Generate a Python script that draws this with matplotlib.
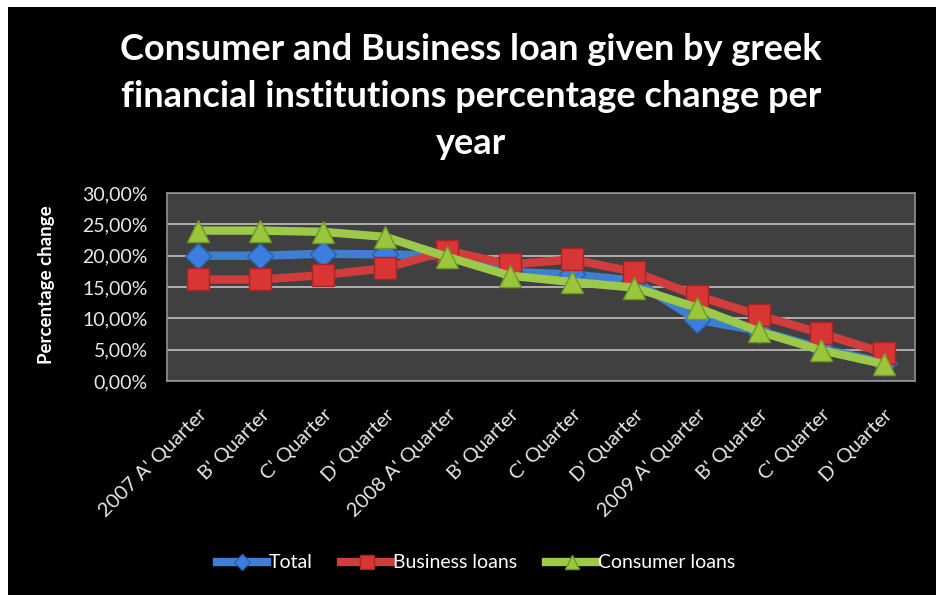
import matplotlib
matplotlib.use('Agg')
import matplotlib.pyplot as plt
from matplotlib.ticker import FuncFormatter

# data (percent)
quarters = ["2007 A' Quarter", "B' Quarter", "C' Quarter", "D' Quarter",
            "2008 A' Quarter", "B' Quarter", "C' Quarter", "D' Quarter",
            "2009 A' Quarter", "B' Quarter", "C' Quarter", "D' Quarter"]
total = [20.0, 20.0, 20.3, 20.2, 20.0, 17.4, 17.0, 16.0, 9.8, 8.0, 5.2, 2.9]
business = [16.2, 16.2, 16.9, 18.0, 20.8, 18.6, 19.4, 17.4, 13.6, 10.5, 7.6, 4.5]
consumer = [24.0, 24.0, 23.8, 23.0, 19.8, 16.8, 15.8, 14.9, 11.7, 7.9, 4.9, 2.7]

title = ("Consumer and Business loan given by greek\n"
         "financial institutions percentage change per\nyear")

plt.rcParams['font.family'] = ['Lato', 'DejaVu Sans']

fig = plt.figure(figsize=(9.37, 5.95), dpi=100)
fig.patch.set_facecolor('black')
# white strip of the cropped caption above the chart
fig.patches.append(plt.Rectangle((0, 1 - 7/595), 1, 7/595, transform=fig.transFigure,
                                 facecolor='white', edgecolor='none'))
fig.patches.append(plt.Rectangle((0, 0), 8/937, 1, transform=fig.transFigure,
                                 facecolor='white', edgecolor='none'))

ax = fig.add_axes([167/937, (595-381)/595, (915-167)/937, (381-193)/595])
ax.set_facecolor('#404040')

x = list(range(len(quarters)))
ax.plot(x, total, color='#3f7fd2', lw=6, marker='D', ms=13,
        mfc='#3b7ee0', mec='#2a5fa8', mew=1, zorder=3, label='Total')
ax.plot(x, business, color='#d13c3c', lw=6, marker='s', ms=16,
        mfc='#d93535', mec='#a82424', mew=1, zorder=4, label='Business loans')
ax.plot(x, consumer, color='#9cc94a', lw=6, marker='^', ms=16,
        mfc='#99c63c', mec='#6e9a26', mew=1, zorder=5, label='Consumer loans')

ax.set_xlim(-0.5, len(quarters) - 0.5)
ax.set_ylim(0, 30)
ax.set_yticks(range(0, 31, 5))
ax.yaxis.set_major_formatter(FuncFormatter(lambda v, p: ('%.2f%%' % v).replace('.', ',')))
ax.grid(axis='y', color='#b0b0b0', lw=1.4)
ax.set_axisbelow(True)
for s in ax.spines.values():
    s.set_color('#909090')
    s.set_linewidth(1.2)

ax.set_xticks(x)
ax.set_xticklabels(quarters, rotation=45, ha='right', va='top', rotation_mode='anchor')
ax.tick_params(axis='both', length=0, colors='#e8e8e8')
ax.tick_params(axis='x', pad=18, labelsize=14.5)
ax.tick_params(axis='y', pad=14, labelsize=14)

ax.set_ylabel('Percentage change', color='white', fontweight='bold', fontsize=13.5)
ax.yaxis.set_label_coords((55 - 167) / 748, 0.51)

fig.text(0.503, 0.944, title, ha='center', va='top', color='white',
         fontsize=26, fontweight='bold', linespacing=1.52)

leg = ax.legend(loc='center', bbox_to_anchor=(476/937, (595-563)/595),
                bbox_transform=fig.transFigure, ncol=3, frameon=False,
                fontsize=14, handlelength=2.6, columnspacing=1.5,
                handletextpad=0.05, markerscale=0.6)
for t in leg.get_texts():
    t.set_color('white')

fig.savefig('out.png', dpi=100, facecolor=fig.get_facecolor())
